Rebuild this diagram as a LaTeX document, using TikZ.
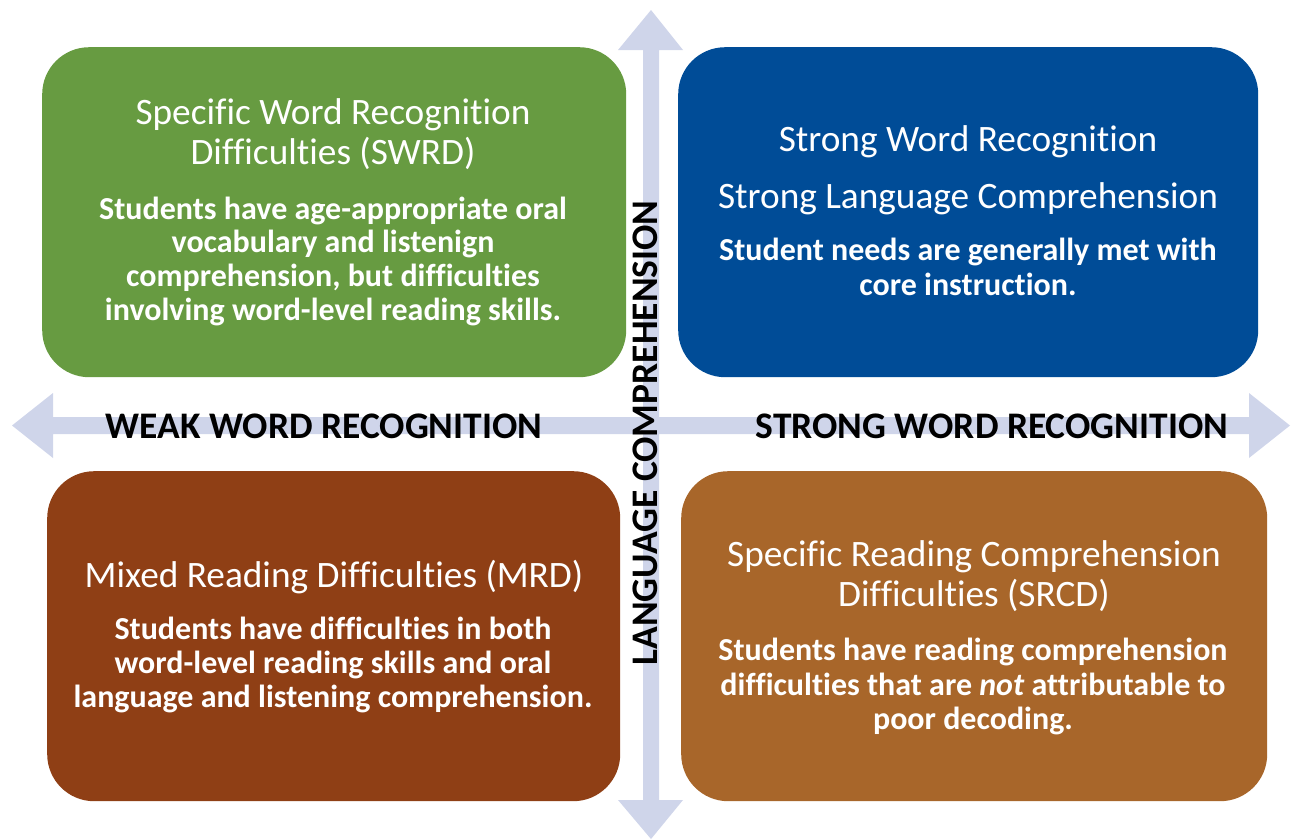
\documentclass[tikz,border=0pt]{standalone}
\usepackage{fontspec}
\setmainfont{Carlito}[Ligatures=CommonOff]
\definecolor{cgreen}{HTML}{679B41}
\definecolor{cblue}{HTML}{004C97}
\definecolor{cbrown}{HTML}{8F3F15}
\definecolor{corange}{HTML}{A8662A}
\definecolor{carrow}{HTML}{CFD5EA}
\begin{document}
\begin{tikzpicture}[x=1pt,y=-1pt,
  quad/.style={rectangle,rounded corners=47pt,inner sep=0pt,anchor=north west},
  ttl/.style={text=white,anchor=base,inner sep=0pt,font=\fontsize{37.3}{45}\selectfont},
  body/.style={text=white,anchor=base,inner sep=0pt,font=\fontsize{32}{38}\selectfont\bfseries},
  axislbl/.style={text=black,anchor=base,inner sep=0pt,font=\fontsize{37.5}{45}\selectfont\bfseries}]
\useasboundingbox (0,0) rectangle (1293,839);
% axes arrows
\fill[carrow] (12,425.5) -- (53,393) -- (53,417) -- (1249,417) -- (1249,393) -- (1290,425.5)
  -- (1249,458) -- (1249,434) -- (53,434) -- (53,458) -- cycle;
\fill[carrow] (651,10) -- (683,50) -- (659,50) -- (659,800) -- (683,800) -- (651,839)
  -- (618,800) -- (643,800) -- (643,50) -- (618,50) -- cycle;
% quadrants
\node[quad,fill=cgreen,minimum width=584pt,minimum height=330pt] (swrd) at (42,47) {};
\node[quad,fill=cblue,minimum width=580pt,minimum height=330pt] (strong) at (678,47) {};
\node[quad,fill=cbrown,minimum width=573pt,minimum height=330pt] (mrd) at (47,471) {};
\node[quad,fill=corange,minimum width=586pt,minimum height=330pt] (srcd) at (681,471) {};
% green text
\node[ttl] (g1) at (333,124) {Specific Word Recognition};
\node[ttl] (g2) at (333,164) {Difficulties (SWRD)};
\node[body] (g3) at (333,219) {Students have age-appropriate oral};
\node[body] (g4) at (333,252.5) {vocabulary and listenign};
\node[body] (g5) at (333,286) {comprehension, but difficulties};
\node[body] (g6) at (333,320) {involving word-level reading skills.};
% blue text
\node[ttl] (b1) at (968,151) {Strong Word Recognition};
\node[ttl] (b2) at (968,208) {Strong Language Comprehension};
\node[body] (b3) at (968,260) {Student needs are generally met with};
\node[body] (b4) at (968,295) {core instruction.};
% brown text
\node[ttl] (r1) at (334,587) {Mixed Reading Difficulties (MRD)};
\node[body] (r2) at (333,639) {Students have difficulties in both};
\node[body] (r3) at (333,673) {word-level reading skills and oral};
\node[body] (r4) at (333,707) {language and listening comprehension.};
% orange text
\node[ttl] (o1) at (974,566) {Specific Reading Comprehension};
\node[ttl] (o2) at (974,606) {Difficulties (SRCD)};
\node[body] (o3) at (973,660) {Students have reading comprehension};
\node[body] (o4) at (973,695) {difficulties that are \textit{not} attributable to};
\node[body] (o5) at (973,729) {poor decoding.};
% axis labels
\node[axislbl] (weak) at (324,438) {WEAK WORD RECOGNITION};
\node[axislbl] (strongwr) at (992,438) {STRONG WORD RECOGNITION};
\node[axislbl,rotate=90] (lang) at (657,433) {LANGUAGE COMPREHENSION};
\end{tikzpicture}
\end{document}
